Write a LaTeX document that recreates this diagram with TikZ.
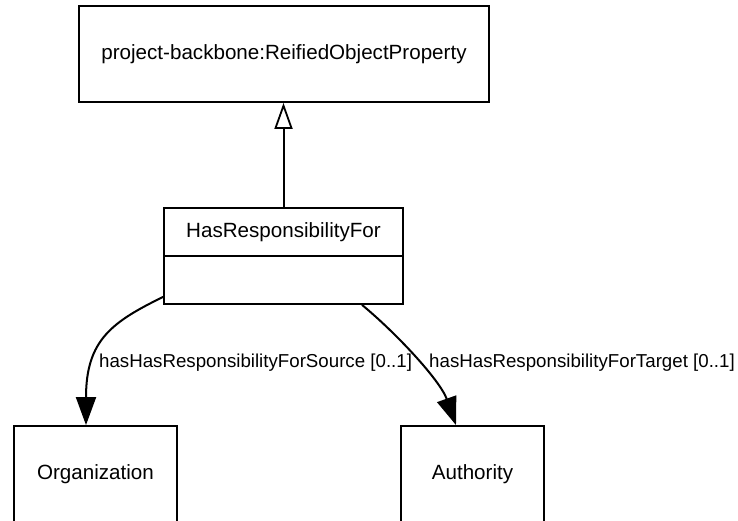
\documentclass[tikz,border=0pt]{standalone}
\usepackage{fontspec}
\setmainfont{Liberation Sans}
\usetikzlibrary{arrows.meta}
\begin{document}
\begin{tikzpicture}[x=1pt,y=-1pt,
  box/.style={draw, line width=1.8pt, inner sep=0pt, font=\fontsize{20.6}{24}\selectfont},
  nametext/.style={inner sep=0pt, font=\fontsize{20.6}{24}\selectfont},
  lbl/.style={inner sep=0pt, anchor=west, font=\fontsize{18.7}{22}\selectfont},
  conn/.style={line width=2pt},
  gen/.style={conn, -{Triangle[open, length=26pt, width=18pt, line width=1.8pt]}},
  assoc/.style={conn, -{Triangle[length=28pt, width=20pt]}}
  ]
\clip (0,0) rectangle (738,520);
\node[box, minimum width=410pt, minimum height=96pt] (rop) at (284,54) {project-backbone:ReifiedObjectProperty};
\node[box, minimum width=239pt, minimum height=96pt] (hrf) at (283.5,256) {};
\node[nametext] (hrfname) at (283.5,232) {HasResponsibilityFor};
\draw[line width=1.8pt] (hrf.west) -- (hrf.east);
\node[box, minimum width=163pt, minimum height=96pt] (org) at (95.5,474) {Organization};
\node[box, minimum width=143pt, minimum height=96pt] (auth) at (472.5,474) {Authority};
\draw[gen] (hrf.north) -- (hrf.north |- rop.south);
\draw[assoc] ([yshift=8pt]hrf.south west) .. controls (112,322) and (86,340) .. ([xshift=-9.5pt]org.north);
\draw[assoc] ([xshift=78.5pt]hrf.south) .. controls (395,332) and (440,380) .. ([xshift=-16.5pt]auth.north);
\node[lbl] (srcl) at (99,363) {hasHasResponsibilityForSource [0..1]};
\node[lbl] (tgtl) at (429,363) {hasHasResponsibilityForTarget [0..1]};
\end{tikzpicture}
\end{document}
